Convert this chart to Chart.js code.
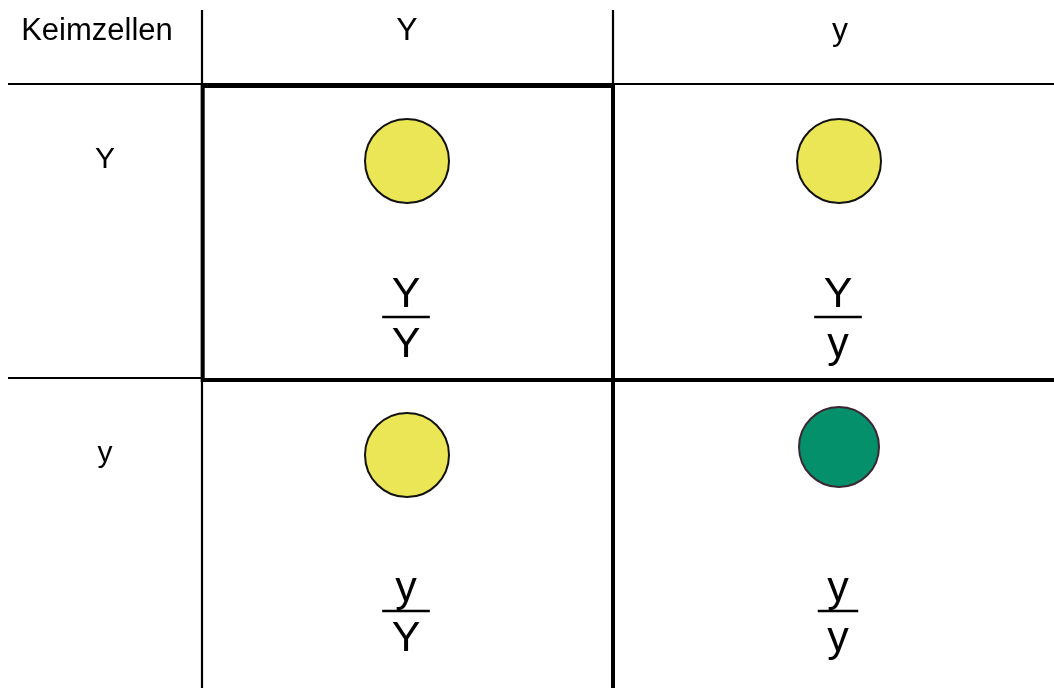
<!DOCTYPE html>
<html lang="de">
<head>
<meta charset="utf-8">
<title>Keimzellen</title>
<script src="https://cdn.jsdelivr.net/npm/chart.js@4/dist/chart.umd.min.js"></script>
<style>
  html, body { margin: 0; padding: 0; background: #ffffff; }
  #wrap { width: 1054px; height: 688px; position: relative; }
</style>
</head>
<body>
<div id="wrap"><canvas id="graph"></canvas></div>
<script>
// Kopftext
const KOPF_TEXT = 'Keimzellen';

// Keimzellen der Spalten / Zeilen
const SPALTEN_GAMETEN = ['Y', 'y'];
const ZEILEN_GAMETEN = ['Y', 'y'];

// Genotyp je Feld [Zaehler, Nenner]
const GENOTYPEN = [
  [['Y', 'Y'], ['Y', 'y']],
  [['y', 'Y'], ['y', 'y']]
];

// Phaenotyp je Feld
const PHAENOTYPEN = [
  ['gelb', 'gelb'],
  ['gelb', 'grün']
];

// Farben
const FARBEN = {
  'gelb': { fill: '#EBE655', rand: '#111111', r: 42 },
  'grün': { fill: '#03906B', rand: '#3D2634', r: 40 }
};

// Layout (Achseneinheiten)
const SCHRIFT = '"Liberation Sans", Arial, sans-serif';
const KOPF_X = 97;
const KOPF_Y = 40;
const SPALTE_X = [407, 840];
const ZEILE_X = 105;
const ZEILE_Y = [168, 462];
const KREIS_X = [407, 839];
const KREIS_Y = [[161, 161], [455, 447]];
const BRUCH_X = [406, 838];
const BRUCH_Y = [317, 611];

// Linien [x1, y1, x2, y2, Breite]
const LINIEN = [
  [202, 10, 202, 688, 2.2],
  [613, 10, 613, 84, 2.2],
  [613, 84, 613, 688, 4],
  [8, 84, 1054, 84, 2.2],
  [8, 378, 202, 378, 2],
  [202, 380, 1054, 380, 4]
];
// fetter Rahmen um das erste Feld
const RAHMEN = [202.7, 86, 613, 380];

// Kreise aus den Daten bauen
let kreisDaten = [];
let kreisFill = [];
let kreisRand = [];
for (let z = 0; z < ZEILEN_GAMETEN.length; z++) {
  for (let s = 0; s < SPALTEN_GAMETEN.length; s++) {
    let farbe = FARBEN[PHAENOTYPEN[z][s]];
    kreisDaten.push({ x: KREIS_X[s], y: KREIS_Y[z][s], r: farbe.r });
    kreisFill.push(farbe.fill);
    kreisRand.push(farbe.rand);
  }
}

function linie(ctx, chart, l) {
  let sx = chart.scales.x;
  let sy = chart.scales.y;
  ctx.beginPath();
  ctx.lineWidth = l[4];
  ctx.moveTo(sx.getPixelForValue(l[0]), sy.getPixelForValue(l[1]));
  ctx.lineTo(sx.getPixelForValue(l[2]), sy.getPixelForValue(l[3]));
  ctx.stroke();
}

/*
  Raster zeichnen
*/
const rasterPlugin = {
  id: 'raster',
  beforeDatasetsDraw(chart) {
    let ctx = chart.ctx;
    let sx = chart.scales.x;
    let sy = chart.scales.y;
    ctx.save();
    ctx.strokeStyle = '#000000';
    ctx.lineCap = 'butt';
    LINIEN.forEach(function(l) { linie(ctx, chart, l); });
    // Rahmen
    let x1 = sx.getPixelForValue(RAHMEN[0]);
    let y1 = sy.getPixelForValue(RAHMEN[1]);
    let x2 = sx.getPixelForValue(RAHMEN[2]);
    let y2 = sy.getPixelForValue(RAHMEN[3]);
    ctx.lineWidth = 4;
    ctx.strokeRect(x1, y1, x2 - x1, y2 - y1);
    ctx.restore();
  }
};

/*
  Texte zeichnen
*/
const textPlugin = {
  id: 'texte',
  afterDatasetsDraw(chart) {
    let ctx = chart.ctx;
    let sx = chart.scales.x;
    let sy = chart.scales.y;
    ctx.save();
    ctx.fillStyle = '#000000';
    ctx.strokeStyle = '#000000';
    ctx.textAlign = 'center';
    ctx.textBaseline = 'alphabetic';

    // Kopfzeile
    ctx.font = '31px ' + SCHRIFT;
    ctx.fillText(KOPF_TEXT, sx.getPixelForValue(KOPF_X), sy.getPixelForValue(KOPF_Y));
    ctx.font = '32px ' + SCHRIFT;
    SPALTEN_GAMETEN.forEach(function(g, s) {
      ctx.fillText(g, sx.getPixelForValue(SPALTE_X[s]), sy.getPixelForValue(KOPF_Y));
    });

    // Zeilenkoepfe
    ctx.font = '30px ' + SCHRIFT;
    ZEILEN_GAMETEN.forEach(function(g, z) {
      ctx.fillText(g, sx.getPixelForValue(ZEILE_X), sy.getPixelForValue(ZEILE_Y[z]));
    });

    // Genotypen als Bruch
    ctx.font = '43px ' + SCHRIFT;
    for (let z = 0; z < GENOTYPEN.length; z++) {
      for (let s = 0; s < GENOTYPEN[z].length; s++) {
        let zaehler = GENOTYPEN[z][s][0];
        let nenner = GENOTYPEN[z][s][1];
        let x = sx.getPixelForValue(BRUCH_X[s]);
        let y = sy.getPixelForValue(BRUCH_Y[z]);
        ctx.fillText(zaehler, x, y - 10);
        ctx.fillText(nenner, x, y + 40);
        let breite = Math.max(ctx.measureText(zaehler).width, ctx.measureText(nenner).width) + 19;
        ctx.beginPath();
        ctx.lineWidth = 2.5;
        ctx.moveTo(x - breite / 2, y);
        ctx.lineTo(x + breite / 2, y);
        ctx.stroke();
      }
    }
    ctx.restore();
  }
};

let graph = new Chart(document.getElementById('graph'), {
  type: 'bubble',
  data: {
    datasets: [{
      label: 'Phänotyp',
      data: kreisDaten,
      backgroundColor: kreisFill,
      borderColor: kreisRand,
      borderWidth: 2,
      hoverBorderWidth: 2,
      clip: false
    }]
  },
  options: {
    responsive: true,
    maintainAspectRatio: false,
    animation: false,
    events: [],
    layout: { padding: 0, autoPadding: false },
    plugins: {
      legend: { display: false },
      tooltip: { enabled: false }
    },
    scales: {
      x: { type: 'linear', min: 0, max: 1054, display: false },
      y: { type: 'linear', min: 0, max: 688, reverse: true, display: false }
    }
  },
  plugins: [rasterPlugin, textPlugin]
});
</script>
</body>
</html>
